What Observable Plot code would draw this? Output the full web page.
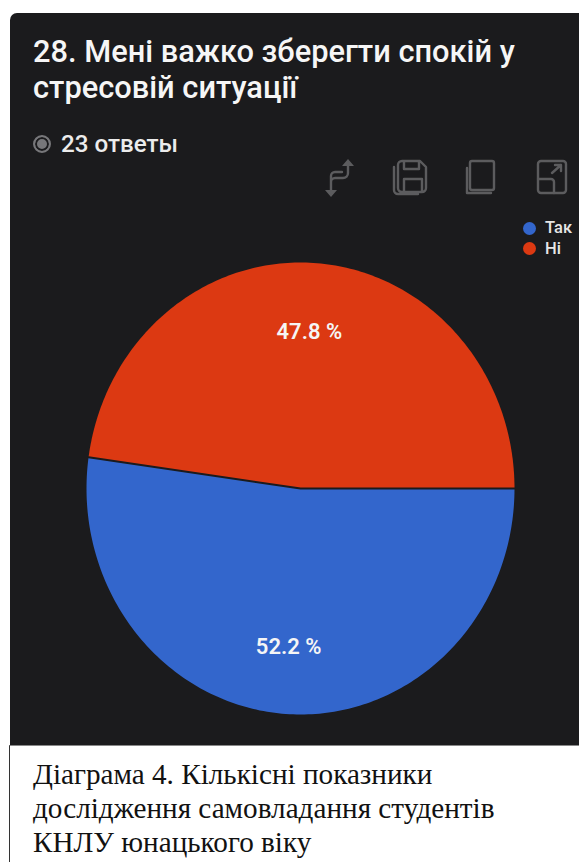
<!DOCTYPE html>
<html lang="uk">
<head>
<meta charset="utf-8">
<script src="https://cdn.jsdelivr.net/npm/d3@7"></script>
<script src="https://cdn.jsdelivr.net/npm/@observablehq/plot@0.6"></script>
<style>
  html, body { margin: 0; padding: 0; background: #fff; width: 579px; height: 862px; overflow: hidden; }
  #page { position: relative; width: 579px; height: 862px; }
  #panel { position: absolute; left: 10px; top: 13px; width: 569px; height: 732px; background: #1b1b1d; border-top-left-radius: 7px; }
  #title { position: absolute; left: 33px; top: 34px; margin: 0; color: #f6f6f6; font: 500 30.8px/36px Roboto, sans-serif; white-space: pre-line; }
  #count { position: absolute; left: 33px; top: 130px; color: #ececec; font: 500 24.2px/28px Roboto, sans-serif; display: flex; align-items: center; }
  #count i { display: block; box-sizing: border-box; width: 18px; height: 18px; border: 2px solid #77777a; border-radius: 50%; margin-right: 10px; background: #77777a; box-shadow: inset 0 0 0 2px #1b1b1d; }
  #tools { position: absolute; left: 320px; top: 155px; }
  #legend { position: absolute; left: 523px; top: 218px; color: #e6e6e6; font: 500 16.5px/20.5px Roboto, sans-serif; }
  #legend div { display: flex; align-items: center; }
  #legend i { display: block; width: 13px; height: 13px; border-radius: 50%; margin-right: 9px; }
  #chart { position: absolute; left: 0; top: 250px; }
  #chart svg { background: transparent; display: block; overflow: visible; }
  #caption { position: absolute; left: 9px; top: 745px; width: 570px; height: 117px; box-sizing: border-box; border-left: 1px solid #333; border-top: 1px solid #888; background: #fff; color: #111; padding: 11px 0 0 23px; font: 400 29.2px/34px "Liberation Serif", serif; white-space: pre-line; }
</style>
</head>
<body>
<div id="page">
  <div id="panel"></div>
  <h1 id="title">28. Мені важко зберегти спокій у
стресовій ситуації</h1>
  <div id="count"><i></i><span id="countText"></span></div>
  <svg id="tools" width="255" height="48" fill="none" stroke="#5c5c5e" stroke-width="2.4" stroke-linejoin="round" stroke-linecap="round">
    <!-- swap -->
    <path d="M11 36V27a4 4 0 0 1 4-4h8a5 5 0 0 0 5-5V10M11 32V21a4 4 0 0 1 4-4h7"/>
    <path d="M22 11l6-7 6 7zM5 35l6 7 6-7z" fill="#5c5c5e" stroke="none"/>
    <!-- save -->
    <path d="M78 10a4 4 0 0 1 4-4h18l6 6v21a4 4 0 0 1-4 4H82a4 4 0 0 1-4-4zM84 6v8h15V6M84 37V24h18v13M74 12v23a4 4 0 0 0 4 4h20"/>
    <!-- copy -->
    <path d="M152 6h20a2 2 0 0 1 2 2v25a2 2 0 0 1-2 2h-20a2 2 0 0 1-2-2V8a2 2 0 0 1 2-2zM147 13v25h24"/>
    <!-- expand -->
    <rect x="218" y="6" width="28" height="32" rx="3"/>
    <path d="M218 24h13a3 3 0 0 1 3 3v11M232 18l9-8M235 10h6v6"/>
  </svg>
  <div id="legend"></div>
  <div id="chart"></div>
  <div id="caption"></div>
</div>
<script>
// Survey results for question 28
const categories = ["Так", "Ні"];
const shares = [52.2, 47.8];
const colors = ["#3366cc", "#dc3912"];
const responses = "23 ответы";
const captionText = "Діаграма 4. Кількісні показники\nдослідження самовладання студентів\nКНЛУ юнацького віку";

document.getElementById("countText").textContent = responses;
document.getElementById("caption").textContent = captionText;
document.getElementById("legend").innerHTML = categories
  .map((c, i) => `<div><i style="background:${colors[i]}"></i>${c}</div>`).join("");

// Turn the shares into sectors, running clockwise from the east side of the circle
const arcs = d3.pie().sort(null).startAngle(Math.PI / 2).endAngle(Math.PI / 2 + 2 * Math.PI)(shares);
const toPoint = (a, r = 1) => ({ x: r * Math.sin(a), y: r * Math.cos(a) });

const outline = arcs.flatMap((arc, i) => {
  const steps = Math.ceil((arc.endAngle - arc.startAngle) / (Math.PI / 180));
  const rim = d3.range(steps + 1).map(k => toPoint(arc.startAngle + (arc.endAngle - arc.startAngle) * k / steps));
  return [{ x: 0, y: 0 }, ...rim, { x: 0, y: 0 }].map(p => ({ ...p, category: categories[i] }));
});

// The separator follows the slice edges, through the centre
const seam = [toPoint(arcs[0].startAngle), { x: 0, y: 0 }, toPoint(arcs[0].endAngle)];

const labels = arcs.map((arc, i) => ({
  ...toPoint((arc.startAngle + arc.endAngle) / 2, 0.7),
  label: `${shares[i].toFixed(1)} %`
}));

const chart = Plot.plot({
  width: 579,
  height: 480,
  marginLeft: 86,
  marginRight: 65,
  marginTop: 12,
  marginBottom: 16,
  x: { domain: [-1, 1], axis: null },
  y: { domain: [-1, 1], axis: null },
  color: { domain: categories, range: colors },
  marks: [
    Plot.line(outline, { x: "x", y: "y", z: "category", fill: "category", stroke: "none" }),
    Plot.line(seam, { x: "x", y: "y", stroke: "#1b1b1d", strokeWidth: 2 }),
    Plot.text(labels, {
      x: "x", y: "y", text: "label", fill: "#f5f5f5", dx: -1.5, dy: 1,
      fontSize: 22, fontWeight: 600, fontFamily: "Roboto, sans-serif"
    })
  ]
});
document.getElementById("chart").append(chart);
</script>
</body>
</html>
